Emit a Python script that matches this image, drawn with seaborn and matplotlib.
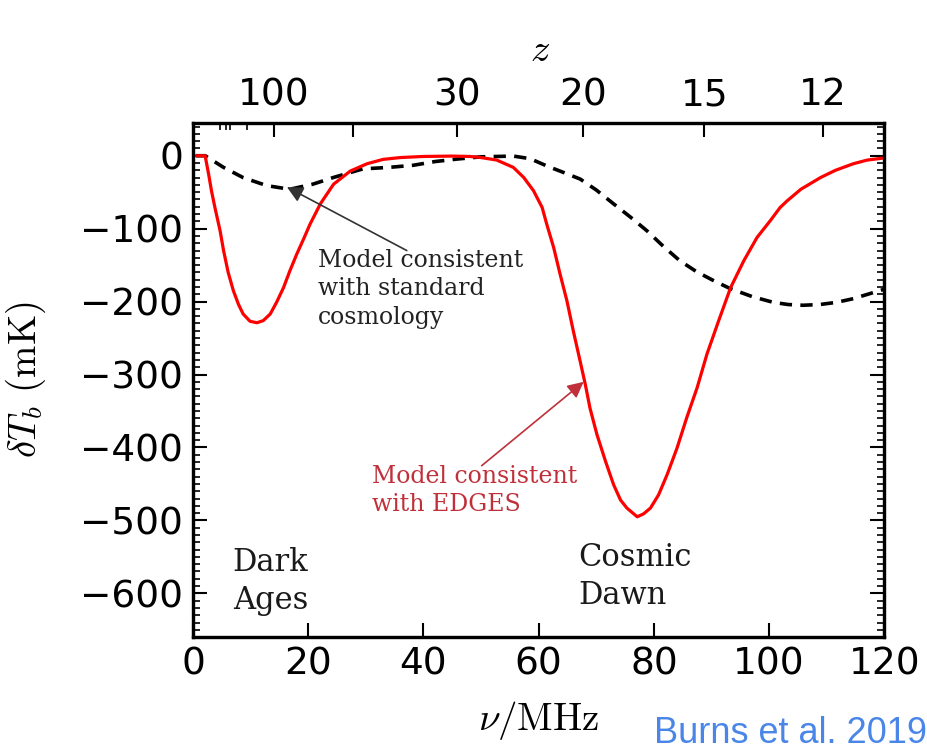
import numpy as np
import pandas as pd
import matplotlib
matplotlib.use("Agg")
import matplotlib.pyplot as plt
from matplotlib.ticker import MultipleLocator, FixedLocator
import seaborn as sns

# ---------------- data ----------------
nu_edges = [0.5, 2.1, 2.7, 3.2, 3.8, 4.7, 5.3, 6.1, 7.0, 7.9, 8.7, 9.9, 11.1, 12.2,
            13.4, 14.5, 15.7, 16.8, 18.0, 19.2, 20.3, 22.1, 24.4, 27.3, 30.2,
            33.0, 36.0, 40.0, 45.0, 48.0, 49.8, 52.7, 55.6, 57.4, 59.1, 60.6,
            61.4, 62.6, 63.7, 64.9, 66.0, 67.2, 68.1, 68.9, 70.1, 71.6, 73.0,
            74.2, 75.3, 77.1, 78.2, 79.4, 80.8, 82.3, 84.0, 85.7, 87.5, 89.2,
            91.2, 93.3, 95.6, 97.9, 100.2, 101.9, 103.1, 105.5, 108.9, 111.5,
            114.6, 117.0, 120.0]
dT_edges = [0, 0, -25, -48, -71, -103, -130, -160, -185, -204, -217, -227, -229, -226,
            -217, -201, -181, -158, -135, -114, -94, -66, -39, -21, -11,
            -5, -2.5, -1, -0.5, -1, -2.3, -5.9, -16, -29.8, -48, -71,
            -94, -126, -162, -199, -240, -282, -314, -346, -382, -419, -451,
            -472, -483, -495, -491, -483, -465, -437, -401, -359, -318, -272,
            -227, -181, -144, -112, -89, -71, -62, -46, -30, -20,
            -11, -6, -3]

nu_std = [0.5, 2.1, 5.3, 8.7, 12.8, 16.8, 20.8, 24.3, 29.5, 34.0, 38.3, 42.0,
          45.8, 50.0, 55.6, 58.5, 61.4, 64.0, 67.2, 70.0, 73.0, 75.9, 78.8,
          81.6, 84.5, 87.4, 90.3, 93.2, 97.0, 100.7, 103.3, 105.9, 108.8,
          111.7, 114.6, 117.5, 120.0]
dT_std = [0, 0, -16, -30, -41, -46, -39, -30, -18, -16, -13, -8,
          -4.6, -1.5, -0.5, -4, -14, -22, -32, -47, -66, -84, -103,
          -124, -144, -159, -171, -182, -193, -201, -204, -205, -204,
          -201, -196, -189, -183]

x_ticks = [0, 20, 40, 60, 80, 100, 120]
y_ticks = [0, -100, -200, -300, -400, -500, -600]
z_major = [100, 50, 30, 20, 15, 12]
z_major_labels = ["100", "", "30", "20", "15", "12"]
z_minor = [300, 250, 220, 150]
NU21 = 1420.4

# ---------------- style ----------------
sns.set_style("ticks")
plt.rcParams["font.family"] = ["DejaVu Sans"]
plt.rcParams["mathtext.fontset"] = "cm"
for k in ["text.color", "axes.labelcolor", "xtick.color", "ytick.color", "axes.edgecolor"]:
    plt.rcParams[k] = "black"

fig = plt.figure(figsize=(9.28, 7.54), dpi=100)
ax = fig.add_axes([0.208, 0.155, 0.745, 0.682])

df_std = pd.DataFrame({"nu": nu_std, "dT": dT_std})
df_edges = pd.DataFrame({"nu": nu_edges, "dT": dT_edges})

sns.lineplot(data=df_std, x="nu", y="dT", ax=ax, sort=False, estimator=None,
             color="black", linewidth=2.6, linestyle=(0, (3.4, 2.3)))
sns.lineplot(data=df_edges, x="nu", y="dT", ax=ax, sort=False, estimator=None,
             color="#ff0000", linewidth=2.3)
for ln in ax.lines:
    ln.set_solid_joinstyle("round")
    ln.set_dash_joinstyle("round")

ax.set_xlim(0, 120)
ax.set_ylim(-660, 45)
ax.set_xticks(x_ticks)
ax.set_yticks(y_ticks)
ax.yaxis.set_minor_locator(MultipleLocator(10))

ax.tick_params(axis="both", which="major", direction="in", length=10, width=1.5,
               labelsize=27, pad=7, colors="black")
ax.tick_params(axis="y", which="both", right=True)
ax.tick_params(axis="y", which="minor", direction="in", length=5, width=1.2)
ax.tick_params(axis="x", which="both", top=False)

for s in ax.spines.values():
    s.set_linewidth(2.3)
    s.set_color("black")

ax.set_xlabel(r"$\nu/\mathrm{MHz}$", fontsize=28)
ax.xaxis.set_label_coords(0.5, -0.12)
ax.set_ylabel(r"$\delta T_b\ (\mathrm{mK})$", fontsize=28)
ax.yaxis.set_label_coords(-0.21, 0.5)

# top redshift axis
ax2 = ax.twiny()
ax2.set_xlim(ax.get_xlim())
ax2.set_xticks([NU21 / (1 + z) for z in z_major])
ax2.set_xticklabels(z_major_labels)
ax2.xaxis.set_minor_locator(FixedLocator([NU21 / (1 + z) for z in z_minor]))
ax2.tick_params(axis="x", which="major", direction="in", length=10, width=1.5,
                labelsize=27, pad=7, colors="black")
ax2.tick_params(axis="x", which="minor", direction="in", length=5, width=1.2)
ax2.set_xlabel(r"$z$", fontsize=28)
ax2.xaxis.set_label_coords(0.502, 1.12)
for s in ax2.spines.values():
    s.set_linewidth(2.3)
    s.set_color("black")

serif = ["DejaVu Serif"]
# annotations
ax.annotate("", xy=(16.3, -43), xytext=(37.1, -130),
            arrowprops=dict(arrowstyle="-|>", color="#333333", lw=1.2,
                            shrinkA=0, shrinkB=0, mutation_scale=24))
ax.text(21.7, -128, "Model consistent\nwith standard\ncosmology", ha="left", va="top",
        fontsize=17, family=serif, color="#222222", linespacing=1.3)

ax.annotate("", xy=(67.8, -310), xytext=(50.1, -425),
            arrowprops=dict(arrowstyle="-|>", color="#c0303a", lw=1.2,
                            shrinkA=0, shrinkB=0, mutation_scale=24))
ax.text(31.1, -424, "Model consistent\nwith EDGES", ha="left", va="top",
        fontsize=17, family=serif, color="#c0303a", linespacing=1.3)

ax.text(6.9, -536, "Dark\nAges", ha="left", va="top", fontsize=22, family=serif,
        color="#1a1a1a", linespacing=1.3)
ax.text(66.8, -529, "Cosmic\nDawn", ha="left", va="top", fontsize=22, family=serif,
        color="#1a1a1a", linespacing=1.3)

fig.text(0.999, 0.014, "Burns et al. 2019", ha="right", va="baseline",
         fontsize=26, family=["Liberation Sans"], color="#4a86e8")

fig.savefig("out.png", dpi=100, facecolor="white")
